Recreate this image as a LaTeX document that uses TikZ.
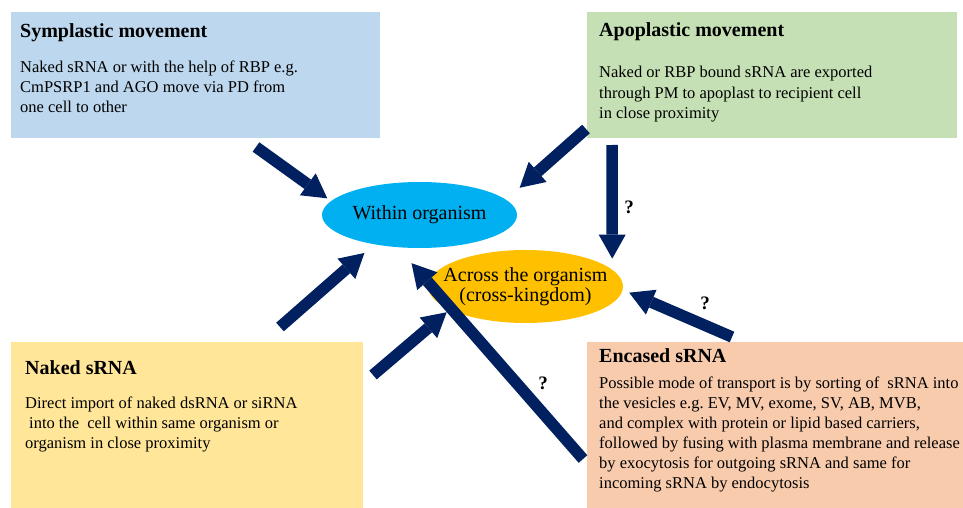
\documentclass[tikz,border=0pt]{standalone}
\usepackage{fontspec}
\setmainfont{Liberation Serif}
\usetikzlibrary{
  arrows.meta,
  shapes.geometric,
  positioning,
  calc
}
\definecolor{rnSym}{HTML}{BDD7EE}
\definecolor{rnApo}{HTML}{C5E0B4}
\definecolor{rnNaked}{HTML}{FFE699}
\definecolor{rnEnc}{HTML}{F8CBAD}
\definecolor{rnWithin}{HTML}{00B0F0}
\definecolor{rnAcross}{HTML}{FFC000}
\definecolor{rnArrow}{HTML}{002060}
\tikzset{
  card/.style={draw=none, anchor=north west, inner sep=0pt},
  cardtitle/.style={font=\fontsize{20}{24}\selectfont\bfseries, anchor=base west, inner sep=0pt},
  cardtext/.style={font=\fontsize{16.5}{20}\selectfont, align=left, anchor=base west, inner sep=0pt},
  organism/.style={
    ellipse, draw=none, minimum width=195pt, minimum height=66pt, inner sep=0pt,
    font=\fontsize{20}{20}\selectfont, align=center
  },
  fatarrow/.style={-{Triangle[length=24pt, width=27pt, line width=0pt]}, line width=11.5pt, draw=rnArrow},
  query/.style={font=\fontsize{19}{19}\selectfont\bfseries, inner sep=0pt}
}

\begin{document}
\begin{tikzpicture}[x=1pt, y=-1pt]
  \useasboundingbox (0,0) rectangle (963,508);
  % four cards
  \node[card, fill=rnSym, minimum width=369pt, minimum height=126pt] (symp) at (11,12) {};
  \node[card, fill=rnApo, minimum width=370pt, minimum height=126pt] (apo) at (587,12) {};
  \node[card, fill=rnNaked, minimum width=352pt, minimum height=166pt] (naked) at (11,342) {};
  \node[card, fill=rnEnc, minimum width=390pt, minimum height=166pt] (enc) at (587,342) {};
  % card texts (base = last line)
  \node[cardtitle] (sympT) at ($(symp.north west)+(9,26)$) {Symplastic movement};
  \node[cardtext] (sympB) at ($(symp.north west)+(9,101)$) {Naked sRNA or with the help of RBP e.g.\\CmPSRP1 and AGO move via PD from\\one cell to other};
  \node[cardtitle] (apoT) at ($(apo.north west)+(12,25)$) {Apoplastic movement};
  \node[cardtext] (apoB) at ($(apo.north west)+(12,106)$) {Naked or RBP bound sRNA are exported\\through PM to apoplast to recipient cell\\in close proximity};
  \node[cardtitle] (nakedT) at ($(naked.north west)+(14,32)$) {Naked sRNA};
  \node[cardtext] (nakedB) at ($(naked.north west)+(14,106)$) {Direct import of naked dsRNA or siRNA\\\hspace*{4pt}into the\ \ cell within same organism or\\organism in close proximity};
  \node[cardtitle] (encT) at ($(enc.north west)+(12,20)$) {Encased sRNA};
  \node[cardtext] (encB) at ($(enc.north west)+(12,146)$) {Possible mode of transport is by sorting of\ \ sRNA into\\the vesicles e.g.\ EV, MV, exome, SV, AB, MVB,\\and complex with protein or lipid based carriers,\\followed by fusing with plasma membrane and release\\by exocytosis for outgoing sRNA and same for\\incoming sRNA by endocytosis};
  % two targets
  \node[organism, fill=rnWithin] (within) at (419.5,215) {Within organism};
  \node[organism, fill=rnAcross, minimum height=73pt, inner xsep=-20pt] (across) at (525.5,286.5) {Across the organism\\(cross-kingdom)};
  % arrow starts
  \coordinate (fromSym) at (256,147);
  \coordinate (fromApoL) at (586,129);
  \coordinate (fromApoD) at (612,145);
  \coordinate (fromNakedU) at (280,327);
  \coordinate (fromNakedR) at (373,375);
  \coordinate (fromEncL) at (583,459);
  \coordinate (fromEncU) at (732,337);
  \draw[fatarrow, shorten >=4.5pt] (fromSym) -- (within.171);
  \draw[fatarrow, shorten >=18pt] (fromApoL) -- (within.10);
  \draw[fatarrow, shorten >=11pt] (fromApoD) -- (across.11);
  \draw[fatarrow, shorten >=13pt] (fromNakedU) -- (within.213);
  \draw[fatarrow, shorten >=4pt] (fromNakedR) -- (across.197);
  \draw[fatarrow, shorten >=21pt] (fromEncL) -- (within.236);
  \draw[fatarrow, shorten >=7pt] (fromEncU) -- (across.-2);
  \node[query] (q1) at (629,207) {?};
  \node[query] (q2) at (543,383) {?};
  \node[query] (q3) at (705,303) {?};
\end{tikzpicture}
\end{document}
